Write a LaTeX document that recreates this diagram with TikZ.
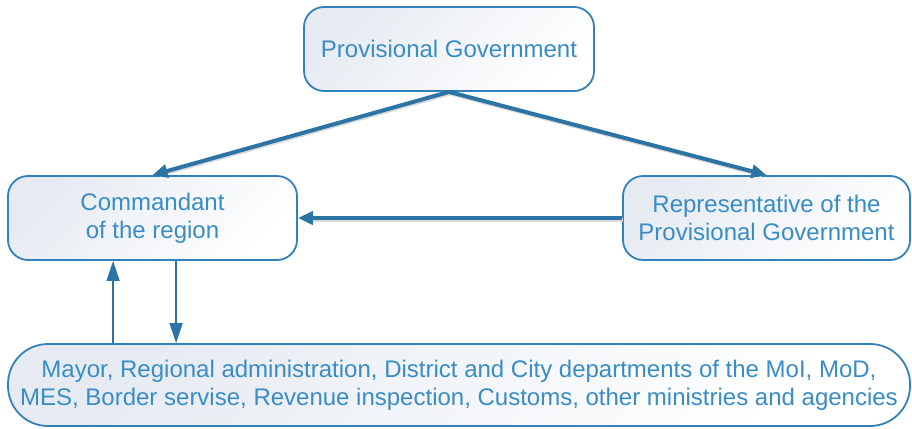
\documentclass[tikz,border=0pt]{standalone}
\usepackage{fontspec}
\setmainfont{Liberation Sans}
\usetikzlibrary{arrows.meta}
\definecolor{boxline}{HTML}{3381BA}
\definecolor{boxtext}{HTML}{3A8CC5}
\definecolor{boxfill}{HTML}{E6EBF2}
\definecolor{linkcol}{HTML}{2C73A6}
\begin{document}
\begin{tikzpicture}[x=1pt,y=-1pt,
  box/.style={draw=boxline, line width=1.8pt, rounded corners=20pt,
    top color=boxfill, bottom color=white, shading angle=45,
    align=center, text=boxtext, inner sep=0pt,
    font=\fontsize{24}{28}\selectfont},
  mainlink/.style={draw=linkcol, line width=4pt,
    -{Triangle[length=15pt,width=13pt]}},
  linkshadow/.style={draw=black!15, line width=4pt, shorten >=6pt,
    transform canvas={xshift=1pt,yshift=-1.5pt}},
  sidelink/.style={draw=linkcol, line width=1.4pt,
    -{Triangle[length=20pt,width=13pt]}}]
\useasboundingbox (0,0) rectangle (912,428);

% boxes
\node[box, minimum width=290pt, minimum height=84pt] (gov) at (449,49)
  {Provisional Government};
\node[box, minimum width=289pt, minimum height=84pt] (cmd) at (152.5,218)
  {Commandant\\of the region};
\node[box, minimum width=287pt, minimum height=84pt] (rep) at (766.5,218)
  {Representative of the\\Provisional Government};
\node[box, rounded corners=40pt, minimum width=902pt, minimum height=82pt] (org) at (459,385)
  {Mayor, Regional administration, District and City departments of the MoI, MoD,\\
   MES, Border servise, Revenue inspection, Customs, other ministries and agencies};

% main links with a soft shadow
\draw[linkshadow] (gov.south) -- (cmd.north);
\draw[linkshadow] (gov.south) -- (rep.north);
\draw[linkshadow] (rep.west) -- (cmd.east);
\draw[mainlink] (gov.south) -- (cmd.north);
\draw[mainlink] (gov.south) -- (rep.north);
\draw[mainlink] (rep.west) -- (cmd.east);

% links between the commandant and the local bodies
\coordinate (upEnd) at ([xshift=106pt]cmd.south west);
\coordinate (downStart) at ([xshift=169pt]cmd.south west);
\draw[sidelink] (upEnd |- org.north) -- (upEnd);
\draw[sidelink] (downStart) -- (downStart |- org.north);
\end{tikzpicture}
\end{document}
